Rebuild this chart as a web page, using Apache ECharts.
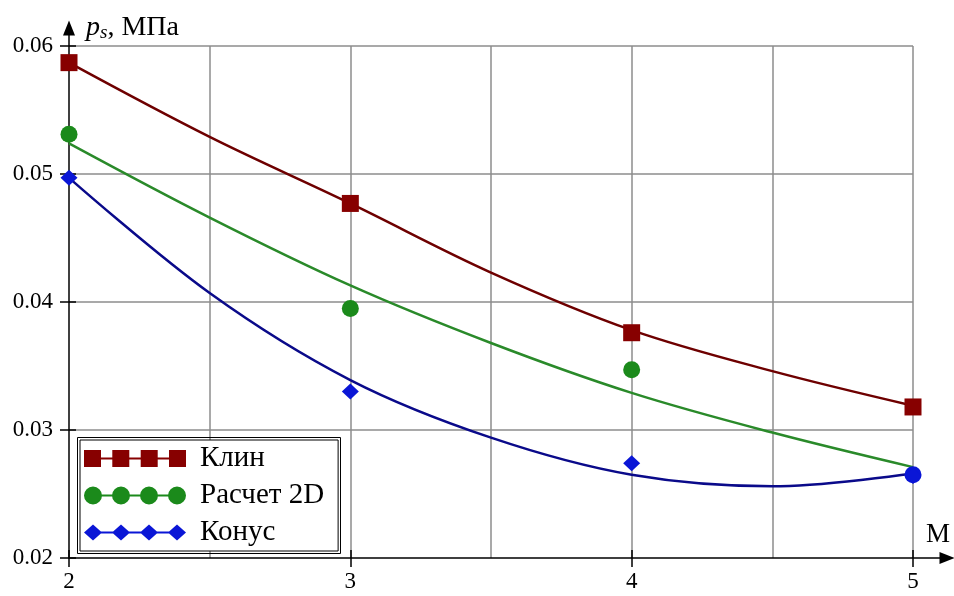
<!DOCTYPE html>
<html><head><meta charset="utf-8">
<script src="https://cdn.jsdelivr.net/npm/echarts@6/dist/echarts.min.js"></script>
<style>html,body{margin:0;padding:0;background:#fff}#c{width:954px;height:596px}</style>
</head><body><div id="c"></div>
<script>
// ---- data ----
const xPoints = [2, 3, 4, 5];
const klinPts = [0.0587, 0.0477, 0.0376, 0.0318];
const raschetPts = [0.0531, 0.0395, 0.0347, 0.0265];
const konusPts = [0.0497, 0.0330, 0.0274, 0.0264];

const xCurve = [2, 2.5, 3, 3.5, 4, 4.5, 5];
const klinCurve = [0.0587, 0.0529, 0.0477, 0.0423, 0.0378, 0.0346, 0.0319];
const raschetCurve = [0.0524, 0.0466, 0.0413, 0.0368, 0.0329, 0.0298, 0.0271];
const konusCurve = [0.0497, 0.0407, 0.0339, 0.0294, 0.0265, 0.0256, 0.0266];

const xTickLabels = [2, 3, 4, 5];
const yTickLabels = [0.02, 0.03, 0.04, 0.05, 0.06];
const seriesNames = ['Клин', 'Расчет 2D', 'Конус'];

// ---- styling ----
const FONT = '"Liberation Serif", "Times New Roman", serif';
const RED = '#870000', RED_LINE = '#6e0000';
const GREEN = '#1b8a1b', GREEN_LINE = '#2a8a2a';
const BLUE = '#0a16d6', BLUE_LINE = '#0a0a8a';
const GRIDC = '#8c8c8c';

const G = {left: 69, right: 41, top: 46, bottom: 38};
const G1 = {left: 69, right: 7, top: 28, bottom: 38};
const W = 954, H = 596;
const xMin = 2, xMax = 5, yMin = 0.02, yMax = 0.06;
const pxPerX = (W - G.left - G.right) / (xMax - xMin);
const pxPerY = (H - G.top - G.bottom) / (yMax - yMin);
const x1Max = xMin + (W - G1.left - G1.right) / pxPerX;
const y1Max = yMin + (H - G1.top - G1.bottom) / pxPerY;

const zip = (xs, ys) => xs.map((x, i) => [x, ys[i]]);

const iconSquares = 'path://M0,7.5H102V9.5H0Z M0,0H17V17H0Z M28.3,0H45.3V17H28.3Z M56.7,0H73.7V17H56.7Z M85,0H102V17H85Z';
const circ = c => `M${c - 9},9a9,9 0 1,1 18,0a9,9 0 1,1 -18,0Z`;
const iconCircles = 'path://M9,8H93V10H9Z ' + [9, 37, 65, 93].map(circ).join(' ');
const dia = c => `M${c - 9},8L${c},0L${c + 9},8L${c},16Z`;
const iconDiamonds = 'path://M9,7H93V9H9Z ' + [9, 37, 65, 93].map(dia).join(' ');

const tickStyle = {color: '#000', width: 1.5};
const arrowAxisX = (gi, showLine, inside, len) => ({
  type: 'value', gridIndex: gi, min: xMin, max: x1Max,
  axisLine: showLine ? {show: true, symbol: ['none', 'triangle'], symbolSize: [12, 15], lineStyle: {color: '#000', width: 1.5}} : {show: false},
  axisTick: {show: true, inside: inside, customValues: xTickLabels, length: len, lineStyle: tickStyle},
  axisLabel: {show: false}, splitLine: {show: false}
});
const arrowAxisY = (gi, showLine, inside, len) => ({
  type: 'value', gridIndex: gi, min: yMin, max: y1Max,
  axisLine: showLine ? {show: true, symbol: ['none', 'triangle'], symbolSize: [12, 15], lineStyle: {color: '#000', width: 1.5}} : {show: false},
  axisTick: {show: true, inside: inside, customValues: yTickLabels, length: len, lineStyle: tickStyle},
  axisLabel: {show: false}, splitLine: {show: false}
});

const chart = echarts.init(document.getElementById('c'));
chart.setOption({
  backgroundColor: '#fff',
  animation: false,
  title: [
    {
      text: '{i|p}{s|s}{n|, МПа}', left: 86, top: 13, padding: 0,
      textStyle: {
        fontWeight: 'normal',
        rich: {
          i: {fontFamily: FONT, fontSize: 28, fontStyle: 'italic', fontWeight: 'normal', color: '#000'},
          s: {fontFamily: FONT, fontSize: 19, fontStyle: 'italic', fontWeight: 'normal', color: '#000', verticalAlign: 'bottom', padding: [10, 0, 0, 0]},
          n: {fontFamily: FONT, fontSize: 28, fontWeight: 'normal', color: '#000'}
        }
      }
    },
    {
      text: 'M', left: 926, top: 521, padding: 0,
      textStyle: {fontFamily: FONT, fontSize: 27, fontWeight: 'normal', color: '#000'}
    }
  ],
  grid: [
    Object.assign({containLabel: false}, G),
    Object.assign({containLabel: false}, G1),
    Object.assign({containLabel: false}, G1)
  ],
  xAxis: [
    {
      type: 'value', gridIndex: 0, min: xMin, max: xMax, interval: 0.5,
      axisLine: {show: false},
      axisTick: {show: false},
      axisLabel: {formatter: v => (Number.isInteger(v) ? String(v) : ''), fontFamily: FONT, fontSize: 23, color: '#000', margin: 12},
      splitLine: {show: true, showMinLine: false, lineStyle: {color: GRIDC, width: 1.5}}
    },
    arrowAxisX(1, true, false, 9),
    arrowAxisX(2, false, true, 8)
  ],
  yAxis: [
    {
      type: 'value', gridIndex: 0, min: yMin, max: yMax, interval: 0.01,
      axisLine: {show: false},
      axisTick: {show: false},
      axisLabel: {formatter: v => v.toFixed(2), fontFamily: FONT, fontSize: 23, color: '#000', margin: 16},
      splitLine: {show: true, showMinLine: false, lineStyle: {color: GRIDC, width: 1.5}}
    },
    arrowAxisY(1, true, false, 9),
    arrowAxisY(2, false, true, 7)
  ],
  legend: {
    orient: 'vertical', left: 80, top: 440,
    itemWidth: 102, itemHeight: 18, itemGap: 8,
    padding: [4, 14, 4, 4],
    borderColor: '#000', borderWidth: 1, backgroundColor: '#fff',
    itemStyle: {borderWidth: 0},
    textStyle: {fontFamily: FONT, fontSize: 29, color: '#000', padding: [0, 0, 0, 9]},
    data: [
      {name: seriesNames[0], icon: iconSquares},
      {name: seriesNames[1], icon: iconCircles},
      {name: seriesNames[2], icon: iconDiamonds}
    ],
    selectedMode: false
  },
  graphic: [{
    type: 'rect', z: 100,
    shape: {x: 77.5, y: 437.5, width: 263, height: 116},
    style: {fill: 'none', stroke: '#000', lineWidth: 1}
  }],
  series: [
    {name: 'fit1', type: 'line', data: zip(xCurve, klinCurve), smooth: 0.35, showSymbol: false, symbol: 'none',
     lineStyle: {color: RED_LINE, width: 2.5}, z: 2, silent: true},
    {name: 'fit2', type: 'line', data: zip(xCurve, raschetCurve), smooth: 0.35, showSymbol: false, symbol: 'none',
     lineStyle: {color: GREEN_LINE, width: 2.5}, z: 2, silent: true},
    {name: 'fit3', type: 'line', data: zip(xCurve, konusCurve), smooth: 0.35, showSymbol: false, symbol: 'none',
     lineStyle: {color: BLUE_LINE, width: 2.5}, z: 2, silent: true},
    {name: seriesNames[0], type: 'scatter', data: zip(xPoints, klinPts), symbol: 'rect', symbolSize: 17,
     itemStyle: {color: RED, opacity: 1}, z: 3},
    {name: seriesNames[1], type: 'scatter', symbol: 'circle', symbolSize: 17,
     data: zip(xPoints, raschetPts).map((p, i) => i === xPoints.length - 1 ? {value: p, itemStyle: {color: BLUE}} : p),
     itemStyle: {color: GREEN, opacity: 1}, z: 3},
    {name: seriesNames[2], type: 'scatter', data: zip(xPoints, konusPts), symbol: 'diamond', symbolSize: [17, 16],
     itemStyle: {color: BLUE, opacity: 1}, z: 4}
  ]
});
</script>
</body></html>
